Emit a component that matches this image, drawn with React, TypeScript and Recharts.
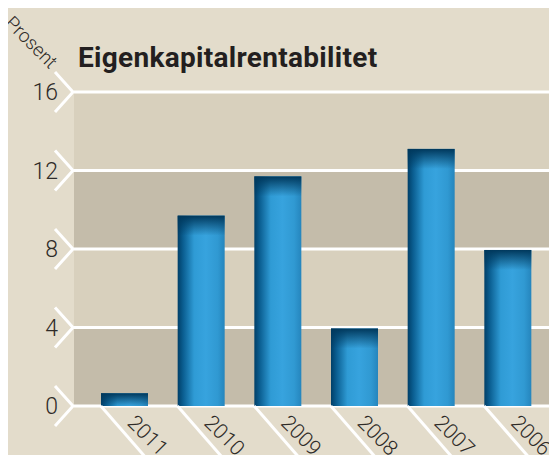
import { BarChart, Bar, XAxis, YAxis, CartesianGrid } from 'recharts';

const years = ['2011', '2010', '2009', '2008', '2007', '2006'];
const roe = [0.65, 9.7, 11.7, 3.95, 13.1, 7.95];
const yTicks = [0, 4, 8, 12, 16];

const data = years.map((year, i) => ({ year, value: roe[i] }));

const BG = '#e3dccb';
const BAND_LIGHT = '#d8d0bd';
const BAND_DARK = '#c4bcaa';
const TEXT = '#2e2b28';
const FONT = "Roboto, 'Noto Sans', sans-serif";
const BAR_SIZE = 47;

// Bar with side gradient plus dark fade at the top
const BarShape = (props: any) => {
  const { x, y, width, height } = props;
  if (!height || height <= 0) return null;
  const shade = Math.min(20, height);
  return (
    <g>
      <rect x={x} y={y} width={width} height={height} fill="url(#barSide)" />
      <rect x={x} y={y} width={width} height={shade} fill="url(#barTop)" />
    </g>
  );
};

const YTick = ({ x, y, payload }: any) => (
  <g>
    <polyline
      points={`${x - 19},${y - 20} ${x - 1},${y} ${x - 19},${y + 20}`}
      fill="none"
      stroke="#fff"
      strokeWidth={3}
    />
    <text x={x - 16} y={y + 8} textAnchor="end" fill={TEXT} fontSize={23} fontWeight={300} fontFamily={FONT}>
      {payload.value}
    </text>
  </g>
);

const XTick = ({ x, y, payload }: any) => {
  const lx = x - BAR_SIZE / 2;
  const tx = x + 2;
  const ty = y + 18;
  return (
    <g>
      <line x1={lx} y1={y} x2={lx + 61} y2={y + 70} stroke="#fff" strokeWidth={3} />
      <text
        x={tx}
        y={ty}
        transform={`rotate(45 ${tx} ${ty})`}
        fill={TEXT}
        fontSize={21}
        fontWeight={300}
        fontFamily={FONT}
      >
        {payload.value}
      </text>
    </g>
  );
};

export default function App() {
  return (
    <div style={{ margin: -8, width: 557, height: 463, background: BG, position: 'relative', overflow: 'hidden' }}>
      <svg width={557} height={90} style={{ position: 'absolute', left: 0, top: 0 }}>
        <text
          x={4}
          y={24}
          transform="rotate(45 4 24)"
          fill={TEXT}
          fontSize={19}
          fontWeight={300}
          fontFamily={FONT}
        >
          Prosent
        </text>
        <text x={78} y={67} fill="#231f20" fontSize={28} fontWeight={700} letterSpacing={0.3} fontFamily={FONT}>
          Eigenkapitalrentabilitet
        </text>
      </svg>
      <BarChart
        width={557}
        height={463}
        data={data}
        margin={{ top: 92, right: 0, bottom: 0, left: 0 }}
        barCategoryGap={0}
      >
        <defs>
          <linearGradient id="barSide" x1="0" y1="0" x2="1" y2="0">
            <stop offset="0%" stopColor="#003f68" />
            <stop offset="12%" stopColor="#0b5f92" />
            <stop offset="35%" stopColor="#2f9bd5" />
            <stop offset="60%" stopColor="#37a3de" />
            <stop offset="85%" stopColor="#3099d2" />
            <stop offset="100%" stopColor="#2585bd" />
          </linearGradient>
          <linearGradient id="barTop" x1="0" y1="0" x2="0" y2="1">
            <stop offset="0%" stopColor="#00385c" stopOpacity={1} />
            <stop offset="100%" stopColor="#00385c" stopOpacity={0} />
          </linearGradient>
        </defs>
        <CartesianGrid
          vertical={false}
          stroke="#ffffff"
          strokeWidth={3}
          strokeOpacity={1}
          horizontalFill={[BAND_LIGHT, BAND_DARK]}
          fillOpacity={1}
        />
        <XAxis
          dataKey="year"
          height={57}
          axisLine={false}
          tickLine={false}
          tickSize={0}
          tickMargin={0}
          padding={{ left: 12, right: 11 }}
          tick={<XTick />}
          interval={0}
        />
        <YAxis
          width={74}
          domain={[0, 16]}
          ticks={yTicks}
          axisLine={false}
          tickLine={false}
          tickSize={0}
          tickMargin={0}
          tick={<YTick />}
          interval={0}
        />
        <Bar dataKey="value" barSize={BAR_SIZE} shape={<BarShape />} isAnimationActive={false} />
      </BarChart>
    </div>
  );
}
